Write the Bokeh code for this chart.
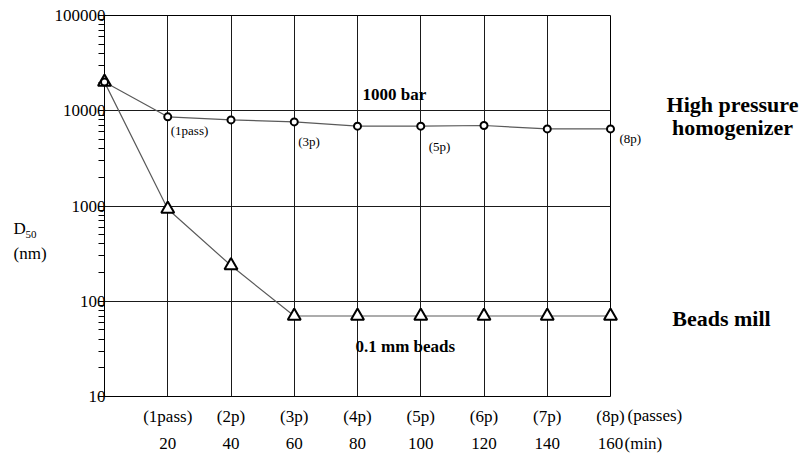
from bokeh.plotting import figure
from bokeh.models import FixedTicker, LinearAxis, Range1d, BasicTickFormatter
from bokeh.core.properties import value
from bokeh.embed import file_html
from bokeh.resources import INLINE

# ---- data ----
minutes = [0, 20, 40, 60, 80, 100, 120, 140, 160]
hph_d50 = [20000, 8630, 8020, 7640, 6890, 6890, 7000, 6450, 6450]
beads_d50 = [20000, 930, 237, 70, 70, 70, 70, 70, 70]
tick_minutes = [20, 40, 60, 80, 100, 120, 140, 160]
pass_labels = ["(1pass)", "(2p)", "(3p)", "(4p)", "(5p)", "(6p)", "(7p)", "(8p)"]
min_labels = ["20", "40", "60", "80", "100", "120", "140", "160"]
y_ticks = [10, 100, 1000, 10000, 100000]
y_tick_labels = ["10", "100", "1000", "10000", "100000"]
y_minor = [m * d for d in [10, 100, 1000, 10000] for m in range(2, 10)]

SERIF = "Liberation Serif"

p = figure(width=806, height=453, x_range=Range1d(0, 160), y_range=Range1d(10, 100000),
           y_axis_type="log", output_backend="svg", toolbar_location=None,
           min_border_left=104, min_border_right=196, min_border_top=15, min_border_bottom=57)
p.outline_line_color = "black"
p.outline_line_width = 1
p.outline_line_alpha = 1
p.background_fill_color = "white"
p.border_fill_color = "white"

# y axis
ya = p.yaxis[0]
ya.ticker = FixedTicker(ticks=y_ticks, minor_ticks=y_minor)
ya.formatter = BasicTickFormatter(use_scientific=False)
ya.major_label_overrides = dict(zip(y_ticks, y_tick_labels))
ya.major_tick_out = 6
ya.major_tick_in = 0
ya.minor_tick_out = 6
ya.minor_tick_in = 0
ya.major_tick_line_color = "black"
ya.minor_tick_line_color = "black"
ya.axis_line_color = "black"
ya.major_label_standoff = -7
ya.major_label_text_font = SERIF
ya.major_label_text_font_size = "17px"
ya.major_label_text_color = "black"
ya.major_label_text_baseline = "top"

# x axes: passes row and minutes row
xa = p.xaxis[0]
xa.ticker = FixedTicker(ticks=tick_minutes)
xa.major_label_overrides = dict(zip(tick_minutes, pass_labels))
xb = LinearAxis(ticker=FixedTicker(ticks=tick_minutes),
                major_label_overrides=dict(zip(tick_minutes, min_labels)))
p.add_layout(xb, "below")
for ax, so in [(xa, 10), (xb, 9)]:
    ax.axis_line_color = None
    ax.major_tick_line_color = None
    ax.minor_tick_line_color = None
    ax.major_tick_out = 0
    ax.major_tick_in = 0
    ax.major_label_standoff = so
    ax.major_label_text_font = SERIF
    ax.major_label_text_font_size = "17px"
    ax.major_label_text_color = "black"

# grids
p.xgrid.ticker = FixedTicker(ticks=tick_minutes)
p.ygrid.ticker = FixedTicker(ticks=y_ticks)
for g in [p.xgrid, p.ygrid]:
    g.grid_line_color = "#1a1a1a"
    g.grid_line_alpha = 1
    g.grid_line_width = 1

# series
p.line(minutes, hph_d50, line_color="#5a5a5a", line_width=1.2)
p.line(minutes, beads_d50, line_color="#5a5a5a", line_width=1.2)
p.scatter(minutes, beads_d50, marker="triangle", size=13, line_color="black",
          line_width=2, fill_color="white", level="overlay")
p.scatter(minutes, hph_d50, marker="circle", size=7, line_color="black",
          line_width=2, fill_color="white", level="overlay")


def txt(x, y, text, xo=0, yo=0, size="13px", bold=False, align="left", base="middle"):
    # xo, yo: screen pixel offsets (yo positive = up)
    p.text(x=[x], y=[y], text=[text], x_offset=xo, y_offset=-yo,
           text_font=value(SERIF), text_font_size=value(size),
           text_font_style="bold" if bold else "normal",
           text_align=align, text_baseline=base, text_color="black", level="overlay")


# point annotations
txt(minutes[1], hph_d50[1], "(1pass)", 3, -14)
txt(minutes[3], hph_d50[3], "(3p)", 4, -20)
txt(minutes[5], hph_d50[5], "(5p)", 8, -20)
txt(minutes[8], hph_d50[8], "(8p)", 9, -10)

txt(80, 10000, "1000 bar", 5, 16, size="17px", bold=True)
txt(80, 70, "0.1 mm beads", -2, -30, size="17px", bold=True)
txt(160, 10000, "High pressure", 122, 6, size="22px", bold=True, align="center", base="alphabetic")
txt(160, 10000, "homogenizer", 122, -17, size="22px", bold=True, align="center", base="alphabetic")
txt(160, 100, "Beads mill", 111, -17, size="22px", bold=True, align="center", base="alphabetic")

# axis unit texts
txt(160, 10, "(passes)", 17, -19, size="17px")
txt(160, 10, "(min)", 14, -47, size="17px")

# y axis title D50 (nm)
txt(0, 1000, "D", -91, -22, size="17px", base="alphabetic")
txt(0, 1000, "50", -79, -28, size="11px", base="alphabetic")
txt(0, 1000, "(nm)", -91, -47, size="17px", base="alphabetic")

open("out.html", "w").write(file_html(p, INLINE))
